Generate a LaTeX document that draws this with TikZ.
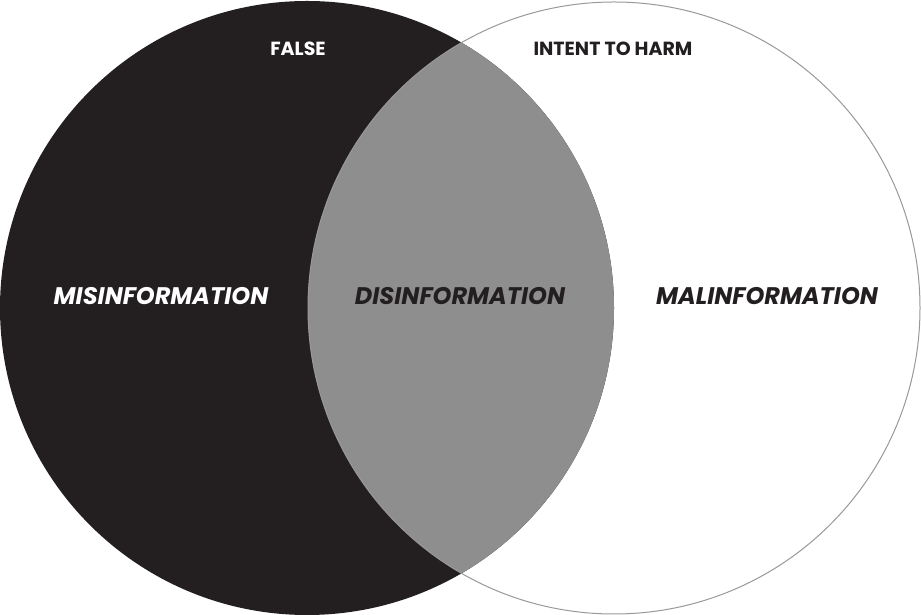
\documentclass[tikz,border=0pt]{standalone}
\usepackage{fontspec}
\setmainfont{Poppins}
\definecolor{dark}{HTML}{231F20}
\definecolor{mid}{HTML}{8F8E8F}
\tikzset{big/.style={font=\fontsize{24}{28}\selectfont\bfseries\itshape},
small/.style={font=\fontsize{19}{22}\selectfont\bfseries}}
\begin{document}
\begin{tikzpicture}[x=1pt,y=1pt]
\useasboundingbox (0,0) rectangle (921,615);
\fill[white] (0,0) rectangle (921,615);
\coordinate (cl) at (307,307);
\coordinate (cr) at (614,307);
\fill[dark] (cl) circle (307);
\begin{scope}
\clip (cl) circle (307);
\fill[mid] (cr) circle (306);
\end{scope}
\draw[gray!80,line width=1pt] (cr) circle (306);
\node[big,text=white] (mis) at (161,319) {MISINFORMATION};
\node[big,text=dark] (dis) at (460,319) {DISINFORMATION};
\node[big,text=dark] (mal) at (767,319) {MALINFORMATION};
\node[small,text=white] (false) at (298,566) {FALSE};
\node[small,text=dark] (harm) at (613,566) {INTENT TO HARM};
\end{tikzpicture}
\end{document}
